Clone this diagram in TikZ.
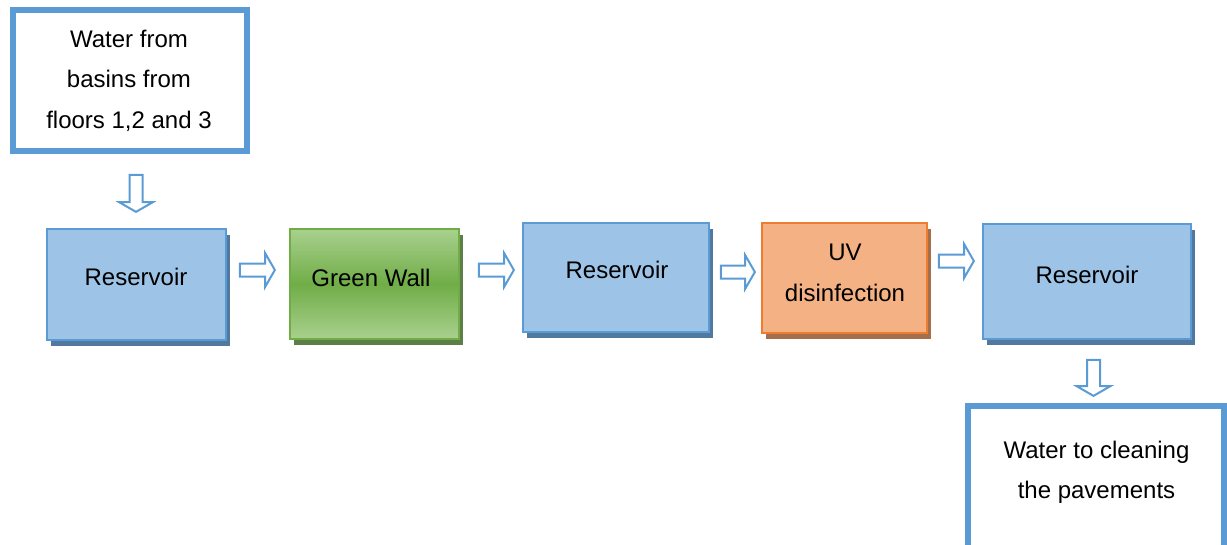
\documentclass[tikz,border=0pt]{standalone}
\usepackage{fontspec}
\setmainfont{Liberation Sans}
\usetikzlibrary{shapes.arrows,shadows}

\definecolor{boxblue}{HTML}{9DC3E6}
\definecolor{lineblue}{HTML}{5B9BD5}
\definecolor{shadeblue}{HTML}{51789F}
\definecolor{greenlight}{HTML}{A9D18E}
\definecolor{greendark}{HTML}{70AD47}
\definecolor{shadegreen}{HTML}{5E7E48}
\definecolor{uvfill}{HTML}{F4B183}
\definecolor{uvline}{HTML}{ED7D31}
\definecolor{shadeuv}{HTML}{A66F4B}

\tikzset{
  stage/.style={rectangle, line width=1.8pt, inner sep=0pt},
  resbox/.style={stage, draw=lineblue, fill=boxblue,
    general shadow={fill=shadeblue, shadow xshift=4pt, shadow yshift=-6pt}},
  greenbox/.style={stage, draw=greendark, top color=greenlight,
    bottom color=greenlight, middle color=greendark,
    general shadow={fill=shadegreen, shadow xshift=4pt, shadow yshift=-6pt}},
  uvbox/.style={stage, draw=uvline, fill=uvfill,
    general shadow={fill=shadeuv, shadow xshift=4pt, shadow yshift=-6pt}},
  endbox/.style={rectangle, draw=lineblue, line width=6pt, fill=white, inner sep=0pt},
  txt/.style={font=\fontsize{24}{40.5}\selectfont, align=center, inner sep=0pt},
  flow/.style={single arrow, draw=lineblue, line width=2pt, fill=white,
    inner sep=5.5pt, single arrow head extend=10.5pt, single arrow tip angle=120},
  flowdown/.style={flow, shape border rotate=270},
}

\begin{document}
\begin{tikzpicture}[x=1pt, y=-1pt]
  \path[use as bounding box] (0,0) rectangle (1227,544);
  \clip (0,0) rectangle (1227,544);

  % source and destination
  \node[endbox, minimum width=234pt, minimum height=141pt] (src) at (130,80.5) {};
  \node[txt] (srctext) at (129,80.75) {Water from\\basins from\\floors 1,2 and 3};

  \node[endbox, minimum width=256pt, minimum height=150pt] (dst) at (1096,481) {};
  \node[txt] (dsttext) at (1096.5,472.5) {Water to cleaning\\the pavements};

  % treatment chain
  \node[resbox, minimum width=179.5pt, minimum height=111.5pt] (r1) at (136.5,284.5) {};
  \node[txt] at (136,277) {Reservoir};

  \node[greenbox, minimum width=169.5pt, minimum height=110.5pt] (gw) at (374.5,284) {};
  \node[txt] at (371,278) {Green Wall};

  \node[resbox, minimum width=186.5pt, minimum height=109.5pt] (r2) at (616,277.5) {};
  \node[txt] at (617,270) {Reservoir};

  \node[uvbox, minimum width=165.5pt, minimum height=110.5pt] (uv) at (844.5,278) {};
  \node[txt] at (845,273) {UV\\disinfection};

  \node[resbox, minimum width=208.5pt, minimum height=115.5pt] (r3) at (1087,281.5) {};
  \node[txt] at (1087,275) {Reservoir};

  % block arrows between stages
  \node[flowdown, minimum height=37pt] (a1) at (136,191.5) {};
  \node[flow, minimum height=35pt] (a2) at (255.5,270) {};
  \node[flow, minimum height=35pt] (a3) at (494.5,270) {};
  \node[flow, minimum height=34pt] (a4) at (736,272) {};
  \node[flow, minimum height=35pt] (a5) at (954.5,261) {};
  \node[flowdown, minimum height=36pt] (a6) at (1093.5,376) {};
\end{tikzpicture}
\end{document}
